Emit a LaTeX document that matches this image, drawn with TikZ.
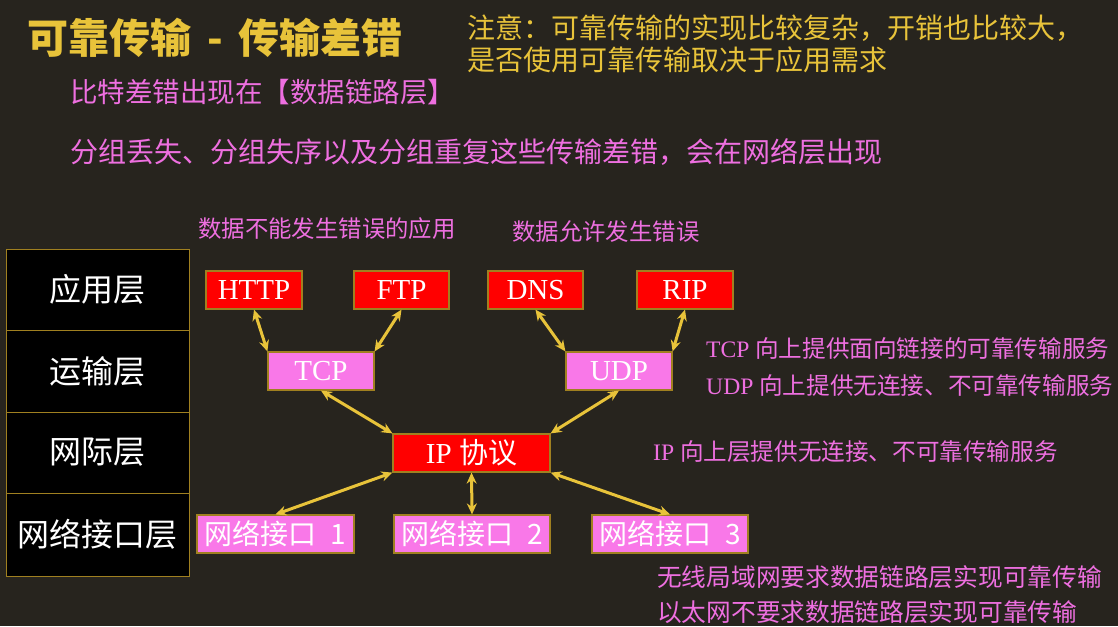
\documentclass[tikz,border=0pt]{standalone}
\usepackage{fontspec}
\setmainfont{Liberation Serif}
\newfontfamily\cjk{Noto Sans CJK SC}
\usetikzlibrary{arrows.meta}
\definecolor{bgcol}{HTML}{27241E}
\definecolor{ylw}{HTML}{E8C33A}
\definecolor{pinktext}{HTML}{EE6FE0}
\definecolor{pinkfill}{HTML}{F978E8}
\definecolor{redfill}{HTML}{FF0000}
\definecolor{olive}{HTML}{A08020}
\tikzset{
  box/.style={draw=olive, line width=1.2pt, text=white, minimum height=38pt, inner sep=0pt,
    font=\fontsize{29}{29}\selectfont},
  redbox/.style={box, fill=redfill},
  pinkbox/.style={box, fill=pinkfill},
  ifbox/.style={pinkbox, minimum width=156pt, font=\cjk\fontsize{28}{28}\selectfont},
  layer/.style={draw=olive, line width=1pt, fill=black, text=white, minimum width=183pt,
    inner sep=0pt, font=\cjk\fontsize{32}{32}\selectfont},
  conn/.style={{Stealth[length=11pt,width=10pt]}-{Stealth[length=11pt,width=10pt]}, draw=ylw, line width=3pt},
  txt/.style={anchor=west, inner sep=0pt},
  pinkline/.style={txt, text=pinktext},
  ylwline/.style={txt, text=ylw}
}
\begin{document}
\begin{tikzpicture}[x=1pt,y=-1pt]
\useasboundingbox (0,0) rectangle (1118,626);
\fill[bgcol] (0,0) rectangle (1118,626);

% headings
\node[ylwline, font=\cjk\bfseries\fontsize{41}{41}\selectfont] (title) at (27,38) {可靠传输\hspace{16pt}-\hspace{16pt}传输差错};
\node[ylwline, font=\cjk\fontsize{28}{28}\selectfont] (note1) at (467,28) {注意：可靠传输的实现比较复杂，开销也比较大，};
\node[ylwline, font=\cjk\fontsize{28}{28}\selectfont] (note2) at (467,60) {是否使用可靠传输取决于应用需求};
\node[pinkline, font=\cjk\fontsize{27.5}{27.5}\selectfont] (bit) at (70,92) {比特差错出现在【数据链路层】};
\node[pinkline, font=\cjk\fontsize{28}{28}\selectfont] (pkt) at (70,152) {分组丢失、分组失序以及分组重复这些传输差错，会在网络层出现};
\node[pinkline, font=\cjk\fontsize{23.4}{23.4}\selectfont] (noerr) at (198,229) {数据不能发生错误的应用};
\node[pinkline, font=\cjk\fontsize{23.4}{23.4}\selectfont] (err) at (512,232) {数据允许发生错误};

% layer table
\node[layer, minimum height=81pt] (l1) at (97.5,289.5) {应用层};
\node[layer, minimum height=82pt] (l2) at (97.5,371) {运输层};
\node[layer, minimum height=81pt] (l3) at (97.5,452.5) {网际层};
\node[layer, minimum height=83pt] (l4) at (97.5,534.5) {网络接口层};

% protocol boxes
\node[redbox, minimum width=96pt] (http) at (254,290) {HTTP};
\node[redbox, minimum width=95pt] (ftp) at (401.5,290) {FTP};
\node[redbox, minimum width=95pt] (dns) at (535.5,290) {DNS};
\node[redbox, minimum width=96pt] (rip) at (685,290) {RIP};
\node[pinkbox, minimum width=106pt] (tcp) at (321,371) {TCP};
\node[pinkbox, minimum width=106pt] (udp) at (619,371) {UDP};
\node[redbox, minimum width=157pt] (ip) at (471.5,453) {IP {\cjk 协议}};
\node[ifbox, minimum width=157pt] (n1) at (275.5,534) {网络接口\hspace{0.5em}1};
\node[ifbox] (n2) at (472,534) {网络接口\hspace{0.5em}2};
\node[ifbox] (n3) at (670,534) {网络接口\hspace{0.5em}3};

% connectors
\draw[conn] (http.south) -- (tcp.north west);
\draw[conn] (ftp.south) -- (tcp.north east);
\draw[conn] (dns.south) -- (udp.north west);
\draw[conn] (rip.south) -- (udp.north east);
\draw[conn] (tcp.south) -- (ip.north west);
\draw[conn] (udp.south) -- (ip.north east);
\draw[conn] (ip.south west) -- (n1.north);
\draw[conn] (ip.south) -- (n2.north);
\draw[conn] (ip.south east) -- (n3.north);

% side notes
\node[pinkline, font=\fontsize{23.6}{23.6}\selectfont] (tcpnote) at (706,349) {TCP {\cjk 向上提供面向链接的可靠传输服务}};
\node[pinkline, font=\fontsize{23.6}{23.6}\selectfont] (udpnote) at (706,386) {UDP {\cjk 向上提供无连接、不可靠传输服务}};
\node[pinkline, font=\fontsize{23.6}{23.6}\selectfont] (ipnote) at (653,452) {IP {\cjk 向上层提供无连接、不可靠传输服务}};
\node[pinkline, font=\cjk\fontsize{24.7}{24.7}\selectfont] (wlan) at (657,577) {无线局域网要求数据链路层实现可靠传输};
\node[pinkline, font=\cjk\fontsize{24.7}{24.7}\selectfont] (eth) at (657,612) {以太网不要求数据链路层实现可靠传输};
\end{tikzpicture}
\end{document}
